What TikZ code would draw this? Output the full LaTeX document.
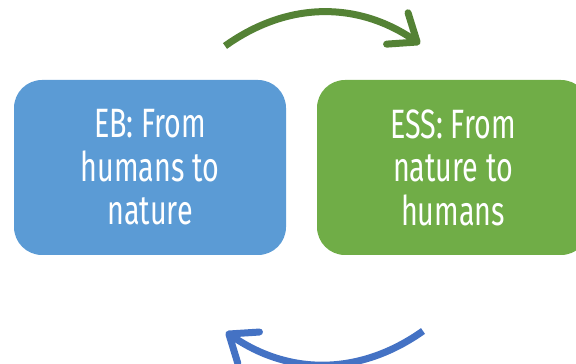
\documentclass[tikz,border=0pt]{standalone}
\usepackage{fontspec}
\setmainfont{Fira Sans}[FakeStretch=0.7]
\usetikzlibrary{arrows.meta}
\definecolor{ebblue}{HTML}{5B9BD5}
\definecolor{essgreen}{HTML}{70AD47}
\definecolor{arrowgreen}{HTML}{548235}
\definecolor{arrowblue}{HTML}{4472C4}

\begin{document}
\begin{tikzpicture}[x=1pt, y=1pt,
	box/.style={rounded corners=28pt, minimum width=272pt, minimum height=175pt, inner sep=0pt,
		text=white, align=center, font=\fontsize{41}{43.5}\selectfont},
	loop arrow/.style={line width=7pt, -{Straight Barb[round, length=24pt, width=38pt]}}]
\useasboundingbox (0,0) rectangle (576,364);
\node[box, fill=ebblue] (eb) at (150,196.5) {EB: From\\humans to\\nature};
\node[box, fill=essgreen] (ess) at (453,196.5) {ESS: From\\nature to\\humans};
\coordinate (top tail) at (225,318);
\coordinate (top tip) at (420,320);
\coordinate (bottom tail) at (423,33);
\coordinate (bottom tip) at (226,32);
\draw[loop arrow, draw=arrowgreen] (top tail) to[bend left=35] (top tip);
\draw[loop arrow, draw=arrowblue] (bottom tail) to[bend left=35] (bottom tip);
\end{tikzpicture}
\end{document}
